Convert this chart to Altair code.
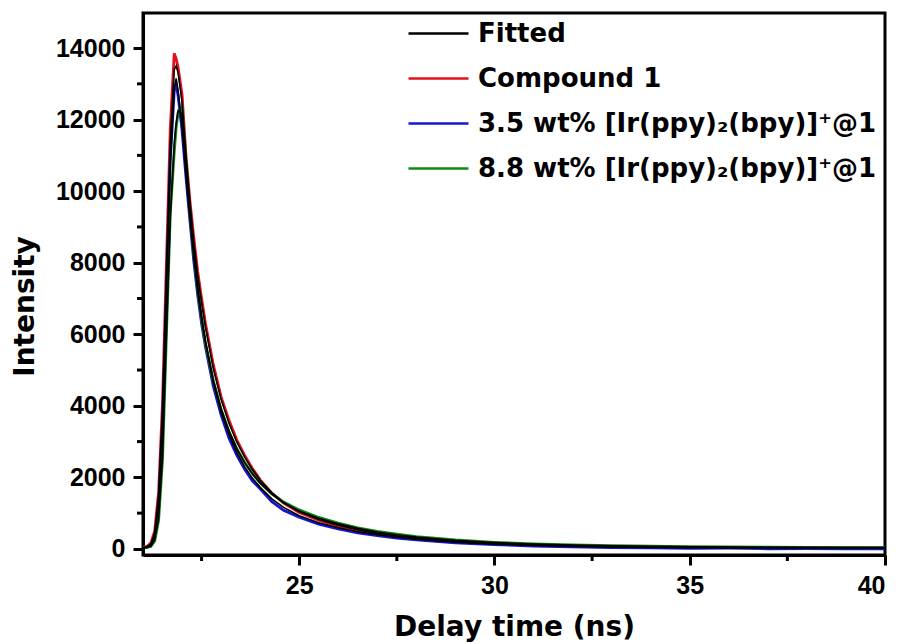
import altair as alt
import pandas as pd

# ---- data ----
t = [21.0, 21.1, 21.2, 21.3, 21.4, 21.5, 21.6, 21.7, 21.8, 21.85, 21.9, 22.0, 22.1, 22.2, 22.3, 22.4,
     22.5, 22.6, 22.8, 23.0, 23.2, 23.4, 23.6, 23.8, 24.0, 24.3, 24.6, 25.0, 25.5, 26.0, 26.5, 27.0,
     27.5, 28.0, 29.0, 30.0, 31.0, 32.0, 33.0, 34.0, 35.0, 36.0, 37.0, 38.0, 39.0, 40.0]

red_data = [50, 70, 160, 500, 1600, 4100, 8000, 11800, 13850, 13700, 13450, 12700, 11000, 9750, 8700, 7750,
            7000, 6300, 5150, 4250, 3600, 3050, 2620, 2250, 1930, 1560, 1280, 1020, 800, 640, 520, 420,
            350, 290, 200, 140, 105, 80, 65, 50, 45, 38, 35, 30, 28, 25]
red_fit = [40, 60, 140, 450, 1500, 3900, 7700, 11400, 13400, 13500, 13300, 12500, 11000, 9700, 8600, 7650,
           6900, 6200, 5050, 4180, 3520, 2990, 2570, 2220, 1920, 1570, 1300, 1040, 820, 660, 535, 435,
           360, 300, 210, 150, 110, 85, 68, 55, 47, 41, 37, 34, 32, 30]

blue_data = [30, 40, 100, 350, 1200, 3500, 7200, 10900, 12800, 13000, 12650, 11700, 10400, 9200, 8050, 7100,
             6300, 5650, 4550, 3750, 3100, 2620, 2230, 1900, 1680, 1320, 1080, 890, 690, 560, 450, 370,
             300, 250, 170, 120, 80, 60, 40, 30, 15, 20, 5, 10, 0, 5]
blue_fit = [30, 45, 110, 360, 1250, 3550, 7200, 10800, 12900, 13150, 12800, 11800, 10450, 9250, 8150, 7200,
            6400, 5750, 4650, 3830, 3200, 2700, 2300, 1980, 1720, 1400, 1160, 930, 730, 590, 480, 395,
            325, 270, 190, 135, 98, 72, 55, 43, 35, 29, 25, 22, 20, 19]

green_data = [30, 40, 70, 220, 800, 2500, 6000, 9400, 11100, 11800, 12200, 12350, 10800, 9400, 8250, 7250,
              6450, 5750, 4700, 3900, 3280, 2800, 2420, 2110, 1850, 1540, 1310, 1090, 880, 720, 590, 490,
              410, 340, 250, 185, 140, 110, 90, 75, 62, 55, 48, 44, 40, 36]
green_fit = [30, 40, 80, 250, 850, 2600, 6000, 9300, 11300, 11900, 12250, 12150, 10900, 9500, 8350, 7350,
             6500, 5800, 4720, 3920, 3300, 2810, 2420, 2100, 1840, 1530, 1290, 1060, 860, 700, 575, 475,
             395, 330, 240, 178, 135, 105, 85, 70, 60, 52, 47, 43, 40, 38]

series_names = ["Fitted", "Compound 1",
                "3.5 wt% [Ir(ppy)\u2082(bpy)]\u207a@1",
                "8.8 wt% [Ir(ppy)\u2082(bpy)]\u207a@1"]
series_colors = ["#000000", "#e3101c", "#1414d2", "#108a10"]

x_major = [25, 30, 35, 40]
x_minor = [22.5, 27.5, 32.5, 37.5]
y_major = [0, 2000, 4000, 6000, 8000, 10000, 12000, 14000]
y_minor = [1000, 3000, 5000, 7000, 9000, 11000, 13000]

# ---- tables ----
rows_data, rows_fit = [], []
for name, d, f in [(series_names[1], red_data, red_fit),
                   (series_names[2], blue_data, blue_fit),
                   (series_names[3], green_data, green_fit)]:
    for ti, di, fi in zip(t, d, f):
        rows_data.append({"t": ti, "v": di, "series": name, "grp": name})
        rows_fit.append({"t": ti, "v": fi, "series": "Fitted", "grp": name})
df_data = pd.DataFrame(rows_data)
df_fit = pd.DataFrame(rows_fit)
df_xminor = pd.DataFrame({"t": x_minor})
df_yminor = pd.DataFrame({"v": y_minor})

xscale = alt.Scale(domain=[21, 40], nice=False, zero=False)
yscale = alt.Scale(domain=[-170, 14980], nice=False, zero=False)
cscale = alt.Scale(domain=series_names, range=series_colors)

LABEL_FONT = "Liberation Sans, Arial, Helvetica, sans-serif"
TITLE_FONT = "DejaVu Sans"

xaxis = alt.Axis(values=x_major, format="d", title="Delay time (ns)", titleX=371, titleY=80,
                 titleBaseline="alphabetic", labelPadding=8, labelFont=LABEL_FONT,
                 labelFontSize=25, labelFontWeight="bold")
yaxis = alt.Axis(values=y_major, format="d", title="Intensity", titleX=-110, titleY=293,
                 titleAngle=270, titleAlign="center", titleBaseline="alphabetic", labelPadding=8,
                 labelFont=LABEL_FONT, labelFontSize=25, labelFontWeight="bold")

legend = alt.Legend(title=None, orient="none", legendX=264, legendY=-11, symbolType="stroke",
                    symbolSize=3600, symbolStrokeWidth=2.5, labelFont=TITLE_FONT,
                    labelFontWeight="bold", labelFontSize=26, labelColor="black",
                    labelOffset=8, rowPadding=-1, padding=0, labelLimit=600)

data_layer = alt.Chart(df_data).mark_line(strokeWidth=2.8).encode(
    x=alt.X("t:Q", scale=xscale, axis=xaxis),
    y=alt.Y("v:Q", scale=yscale, axis=yaxis),
    color=alt.Color("series:N", scale=cscale, legend=legend, sort=series_names),
    detail="grp:N",
)

fit_layer = alt.Chart(df_fit).mark_line(strokeWidth=1.6).encode(
    x=alt.X("t:Q", scale=xscale, axis=xaxis),
    y=alt.Y("v:Q", scale=yscale, axis=yaxis),
    color=alt.Color("series:N", scale=cscale, legend=legend, sort=series_names),
    detail="grp:N",
)

xminor_layer = alt.Chart(df_xminor).mark_rule(color="black", strokeWidth=3).encode(
    x=alt.X("t:Q", scale=xscale, axis=xaxis),
    y=alt.value(542), y2=alt.value(548),
)
yminor_layer = alt.Chart(df_yminor).mark_rule(color="black", strokeWidth=3).encode(
    y=alt.Y("v:Q", scale=yscale, axis=yaxis),
    x=alt.value(0), x2=alt.value(-6),
)

chart = alt.layer(data_layer, fit_layer, xminor_layer, yminor_layer).properties(
    width=742, height=542,
    autosize=alt.AutoSizeParams(type="none"),
    padding={"left": 143, "top": 13, "right": 19, "bottom": 89},
    background="white",
).configure_view(
    stroke="black", strokeWidth=3
).configure_axis(
    grid=False, domainColor="black", domainWidth=3, tickColor="black", tickWidth=3,
    tickSize=10, labelFont=LABEL_FONT, labelFontWeight="bold", labelFontSize=25,
    labelColor="black", titleFont=TITLE_FONT, titleFontWeight="bold", titleFontSize=28,
    titleColor="black",
)

chart.save("out.html", embed_options={"renderer": "svg", "actions": False})
